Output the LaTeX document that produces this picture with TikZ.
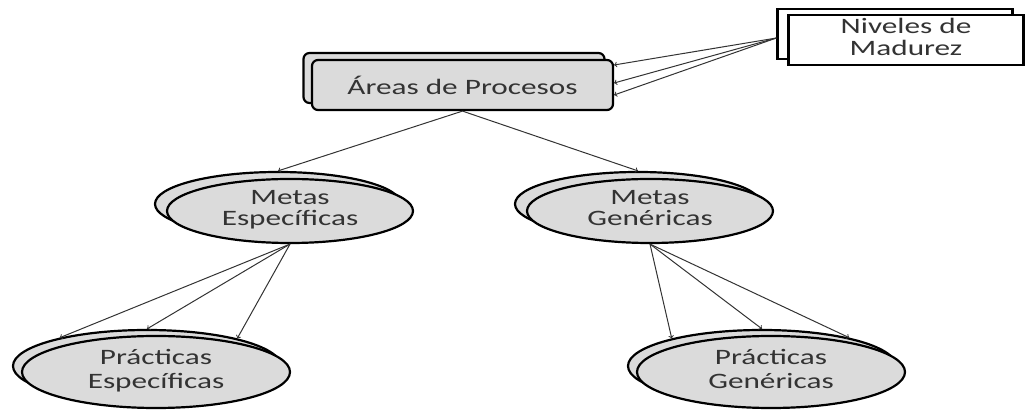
\documentclass[tikz,border=0pt]{standalone}
\usepackage{fontspec}
\setmainfont{Carlito}
\usetikzlibrary{arrows,shapes.geometric}
\newcommand{\ancho}[1]{\scalebox{1.42}[1]{#1}}
\newcommand{\dos}[2]{\ancho{\begin{tabular}{@{}c@{}}#1\\#2\end{tabular}}}

\begin{document}
\begin{tikzpicture} [ x=1pt, y=-1pt, >=to,
    caja/.style={draw, line width=2.2pt, rounded corners=6pt, fill=black!14,
      minimum width=301pt, minimum height=50pt, inner sep=0pt,
      text=black!80, font=\fontsize{22}{21}\selectfont},
    nivel/.style={draw, line width=2.2pt, fill=white,
      minimum width=235pt, minimum height=50pt, inner sep=0pt,
      text=black!80, font=\fontsize{22}{21}\selectfont},
    meta/.style={ellipse, draw, line width=2.2pt, fill=black!14,
      minimum width=246pt, minimum height=64pt, inner sep=0pt,
      text=black!80, font=\fontsize{22}{21}\selectfont},
    practica/.style={ellipse, draw, line width=2.2pt, fill=black!14,
      minimum width=268pt, minimum height=72pt, inner sep=0pt,
      text=black!80, font=\fontsize{22}{24}\selectfont},
    flecha/.style={->, draw=black!80, line width=1pt},
  ]
    \useasboundingbox (0,0) rectangle (1026,411);

    % cajas de arriba
    \node[caja] (areasb) at (454,78) {};
    \node[caja] (areas) at (462.5,85) {\ancho{Áreas de Procesos}};
    \node[nivel] (nivb) at (895,34) {};
    \node[nivel] (niv) at (906,40) {\dos{Niveles de}{Madurez}};

    % metas
    \node[meta] (mesb) at (278,204) {};
    \node[meta] (mes) at (290,211) {\dos{Metas}{Específicas}};
    \node[meta] (mgenb) at (638,204) {};
    \node[meta] (mgen) at (650,211) {\dos{Metas}{Genéricas}};

    % practicas
    \node[practica] (pesb) at (147,366) {};
    \node[practica] (pes) at (156,372) {\dos{Prácticas}{Específicas}};
    \node[practica] (pgenb) at (762,366) {};
    \node[practica] (pgen) at (771,372) {\dos{Prácticas}{Genéricas}};

    % flechas
    \foreach \d in {20,2,-10}
      \draw[flecha] ([yshift=-4pt]nivb.west) -- ([yshift=\d pt]areas.east);
    \draw[flecha] (areas.south) -- (mesb.north);
    \draw[flecha] (areas.south) -- (mgenb.north);
    \foreach \a in {162,90,17}
      \draw[flecha] (mes.south) -- (pesb.\a);
    \foreach \a in {163,90,18}
      \draw[flecha] (mgen.south) -- (pgenb.\a);

\end{tikzpicture}
\end{document}
